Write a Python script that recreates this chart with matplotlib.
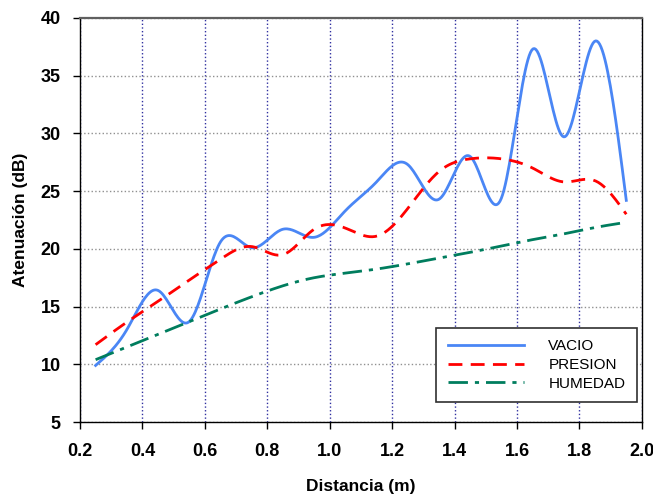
import numpy as np
import matplotlib
matplotlib.use("Agg")
import matplotlib.pyplot as plt

distancia = [0.25, 0.35, 0.45, 0.55, 0.65, 0.75, 0.85, 0.95, 1.05,
             1.15, 1.25, 1.35, 1.45, 1.55, 1.65, 1.75, 1.85, 1.95]
vacio = [9.9, 13.0, 16.4, 13.7, 20.6, 20.1, 21.7, 21.0, 23.3,
         25.8, 27.3, 24.3, 28.0, 24.4, 37.3, 29.7, 38.0, 24.2]
presion = [11.7, 13.65, 15.45, 17.3, 19.1, 20.2, 19.5, 21.7, 21.8,
           21.1, 23.5, 26.7, 27.8, 27.8, 27.0, 25.8, 25.9, 23.0]
humedad = [10.4, 11.5, 12.6, 13.7, 14.8, 15.85, 16.8, 17.5, 17.9,
           18.25, 18.7, 19.2, 19.7, 20.25, 20.8, 21.3, 21.85, 22.3]


def spline(x, y, n=400):
    # natural cubic spline, no scipy here
    x = np.asarray(x, float)
    y = np.asarray(y, float)
    k = len(x)
    h = np.diff(x)
    A = np.zeros((k, k))
    b = np.zeros(k)
    A[0, 0] = A[-1, -1] = 1
    for i in range(1, k - 1):
        A[i, i - 1] = h[i - 1]
        A[i, i] = 2 * (h[i - 1] + h[i])
        A[i, i + 1] = h[i]
        b[i] = 6 * ((y[i + 1] - y[i]) / h[i] - (y[i] - y[i - 1]) / h[i - 1])
    m = np.linalg.solve(A, b)
    xs = np.linspace(x[0], x[-1], n)
    idx = np.clip(np.searchsorted(x, xs) - 1, 0, k - 2)
    t = xs - x[idx]
    hi = h[idx]
    a = y[idx]
    bb = (y[idx + 1] - y[idx]) / hi - hi * (2 * m[idx] + m[idx + 1]) / 6
    c = m[idx] / 2
    d = (m[idx + 1] - m[idx]) / (6 * hi)
    return xs, a + bb * t + c * t ** 2 + d * t ** 3


plt.rcParams["font.family"] = ["Liberation Sans", "DejaVu Sans"]

fig = plt.figure(figsize=(6.53, 4.94), dpi=100)
ax = fig.add_axes([0.1225, 0.1457, 0.8605, 0.8179])

xs, ys = spline(distancia, vacio)
ax.plot(xs, ys, color="#4a86f5", lw=2, label="VACIO")
xs, ys = spline(distancia, presion)
ax.plot(xs, ys, color="#ff0000", lw=2, ls=(0, (5, 3)), label="PRESION")
xs, ys = spline(distancia, humedad)
ax.plot(xs, ys, color="#007d5e", lw=2, ls=(0, (7, 2.5, 1.5, 2.5)), label="HUMEDAD")

ax.set_xlim(0.2, 2.0)
ax.set_ylim(5, 40)
ax.set_xticks(np.arange(0.2, 2.01, 0.2))
ax.set_yticks(range(5, 41, 5))
ax.set_xticklabels([f"{v:.1f}" for v in np.arange(0.2, 2.01, 0.2)])

ax.xaxis.grid(True, ls=":", color="#3030a0", lw=1)
ax.yaxis.grid(True, ls=":", color="#909090", lw=1)
ax.set_axisbelow(True)

ax.spines["top"].set_color("#606060")
ax.spines["top"].set_linewidth(1.6)
for s in ["left", "right", "bottom"]:
    ax.spines[s].set_linewidth(1)
ax.tick_params(direction="out", length=5, width=1, labelsize=13)
ax.tick_params(axis="x", pad=10)
ax.tick_params(axis="y", pad=9)
for lab in ax.get_xticklabels() + ax.get_yticklabels():
    lab.set_fontweight("bold")

ax.set_xlabel("Distancia (m)", fontsize=12.5, fontweight="bold", labelpad=14)
ax.set_ylabel("Atenuación (dB)", fontsize=12.5, fontweight="bold", labelpad=9)

leg = ax.legend(loc="lower right", bbox_to_anchor=(0.991, 0.0495), fontsize=11,
                fancybox=False, framealpha=1, edgecolor="#303030",
                handlelength=5.0, handletextpad=1.6, borderpad=0.75,
                labelspacing=0.3, borderaxespad=0)
leg.get_frame().set_linewidth(1.2)

fig.savefig("out.png", dpi=100)
